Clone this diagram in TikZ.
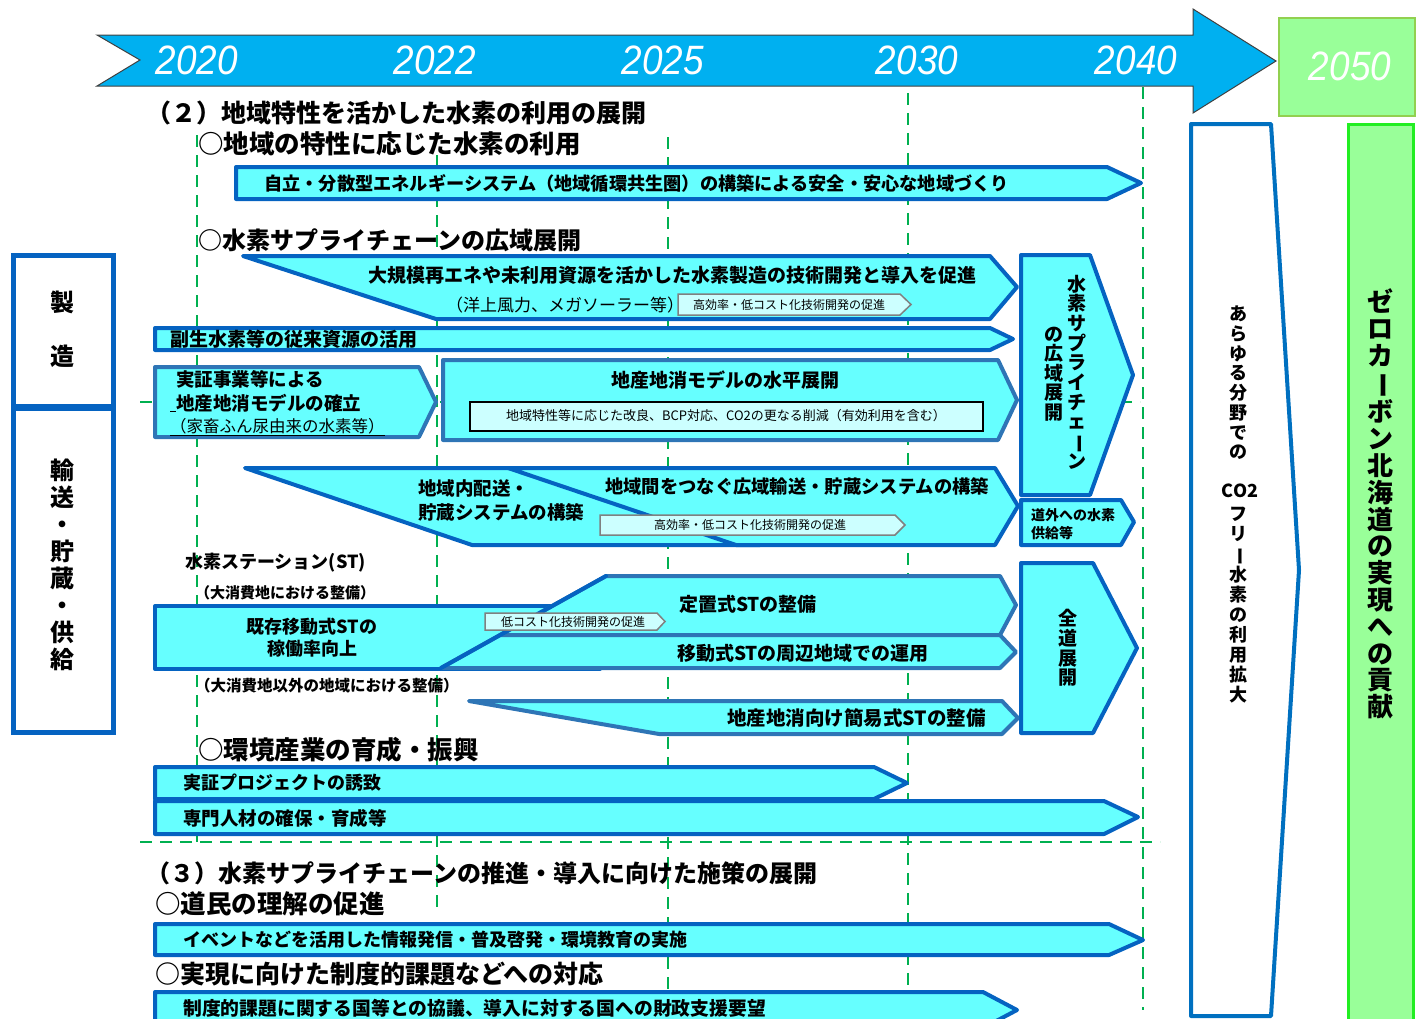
\documentclass[tikz,border=0pt]{standalone}
\usepackage{fontspec}
\setmainfont{Noto Sans CJK JP}
\newfontfamily\yearfont{Liberation Sans}
\usepackage{graphicx}
\definecolor{tlblue}{HTML}{00B0F0}
\definecolor{barfill}{HTML}{66FFFF}
\definecolor{bdark}{HTML}{0563C1}
\definecolor{bmid}{HTML}{2E75B6}
\definecolor{lightc}{HTML}{CCFFFF}
\definecolor{gdash}{HTML}{00B050}
\definecolor{lgreen}{HTML}{99FF99}
\definecolor{gframe}{HTML}{92D050}
\definecolor{bgreen}{HTML}{22EE22}
\definecolor{arrowblue}{HTML}{0070C0}
\newcommand\fsz[1]{\fontsize{#1}{#1}\selectfont}
\newcommand\vbar{\rotatebox[origin=c]{-90}{ー}}
\begin{document}
\begin{tikzpicture}[x=1pt,y=-1pt,
  bar/.style={fill=barfill, draw=bdark, line width=4pt, line join=round},
  barm/.style={fill=barfill, draw=bmid, line width=4pt, line join=round},
  smallarr/.style={fill=lightc, draw=gray, line width=1.5pt},
  gd/.style={draw=gdash, line width=2.5pt, dash pattern=on 12pt off 8pt},
  tw/.style={inner sep=0pt, anchor=west},
  tc/.style={inner sep=0pt},
  te/.style={inner sep=0pt, anchor=east},
  yr/.style={inner sep=0pt, text=white, font=\yearfont\itshape\fsz{41}},
  catbox/.style={draw=bdark, line width=5pt, fill=white},
]
\useasboundingbox (0,0) rectangle (1421,1018);
\clip (0,0) rectangle (1421,1018);

% dashed guide lines
\draw[gd] (197,135) -- (197,842);
\draw[gd] (437,155) -- (437,913);
\draw[gd] (668,137) -- (668,990);
\draw[gd] (908,93) -- (908,990);
\draw[gd] (1143,87) -- (1143,1010);
\draw[gd] (140,842) -- (1160,842);
\draw[gd] (140,402) -- (1140,402);

% timeline
\draw[fill=tlblue, draw=darkgray, line width=1pt, line join=miter]
  (97,35) -- (1193,35) -- (1193,9) -- (1276,61) -- (1193,113) -- (1193,86) -- (97,86) -- (140,60) -- cycle;
\node[yr] (y2020) at (197,60) {\scalebox{0.9}[1]{2020}};
\node[yr] (y2022) at (435,60) {\scalebox{0.9}[1]{2022}};
\node[yr] (y2025) at (663,60) {\scalebox{0.9}[1]{2025}};
\node[yr] (y2030) at (917,60) {\scalebox{0.9}[1]{2030}};
\node[yr] (y2040) at (1136,60) {\scalebox{0.9}[1]{2040}};
\draw[fill=lgreen, draw=gframe, line width=2.5pt] (1279,18) rectangle (1415,116);
\node[yr] (y2050) at (1350,66) {\scalebox{0.9}[1]{2050}};

% right column
\draw[draw=arrowblue, fill=white, line width=4pt, line join=round]
  (1191,124) -- (1271,124) -- (1299,570) -- (1271,1016) -- (1191,1016) -- cycle;
\draw[fill=lgreen, draw=bgreen, line width=3pt] (1348,124) rectangle (1413,1030);
\node[tc, align=center, font=\fontsize{18}{19.7}\selectfont\bfseries] (co2a) at (1238,383)
  {あ\\ら\\ゆ\\る\\分\\野\\で\\の};
\node[tc, font=\fsz{18}\bfseries] (co2b) at (1240,491) {CO2};
\node[tc, align=center, font=\fontsize{18}{20}\selectfont\bfseries] (co2c) at (1238,605)
  {フ\\リ\\\vbar\\水\\素\\の\\利\\用\\拡\\大};
\node[tc, align=center, font=\fontsize{26}{26.8}\selectfont\bfseries] (zero) at (1380,504)
  {ゼ\\ロ\\カ\\\vbar\\ボ\\ン\\北\\海\\道\\の\\実\\現\\へ\\の\\貢\\献};

% left category boxes
\draw[catbox] (13,255) rectangle (113,406);
\draw[catbox] (13,408) rectangle (113,732);
\node[tc, font=\fsz{24}\bfseries] (sei) at (62,302) {製};
\node[tc, font=\fsz{24}\bfseries] (zou) at (62,356) {造};
\node[tc, align=center, font=\fontsize{24}{27}\selectfont\bfseries] (yuso) at (62,565)
  {輸\\送\\・\\貯\\蔵\\・\\供\\給};

% headings
\node[tw, font=\fsz{25}\bfseries] (h2) at (146,113) {（２）地域特性を活かした水素の利用の展開};
\node[tw, font=\fsz{25.5}\bfseries] (h21) at (198,144) {○地域の特性に応じた水素の利用};
\node[tw, font=\fsz{24}\bfseries] (h22) at (198,240) {○水素サプライチェーンの広域展開};
\node[tw, font=\fsz{18}\bfseries] (hst) at (185,563) {水素ステーション(ST)};
\node[tw, font=\fsz{15}\bfseries] (hst1) at (195,593) {（大消費地における整備）};
\node[tw, font=\fsz{15.5}\bfseries] (hst2) at (195,686) {（大消費地以外の地域における整備）};
\node[tw, font=\fsz{25.5}\bfseries] (h23) at (198,750) {○環境産業の育成・振興};
\node[tw, font=\fsz{24}\bfseries] (h3) at (146,873) {（３）水素サプライチェーンの推進・導入に向けた施策の展開};
\node[tw, font=\fsz{25.5}\bfseries] (h31) at (155,904) {○道民の理解の促進};
\node[tw, font=\fsz{25}\bfseries] (h32) at (155,974) {○実現に向けた制度的課題などへの対応};

% bar A
\draw[bar] (236,167) -- (1107,167) -- (1141,183) -- (1107,199) -- (236,199) -- cycle;
\node[tw, font=\fsz{18.2}\bfseries] (ta) at (264,183) {自立・分散型エネルギーシステム（地域循環共生圏）の構築による安全・安心な地域づくり};

% bar B
\draw[bar] (243,256) -- (990,256) -- (1017,287) -- (990,319) -- (436,319) -- cycle;
\node[tc, font=\fsz{19}\bfseries] (tb1) at (672,275) {大規模再エネや未利用資源を活かした水素製造の技術開発と導入を促進};
\node[tw, font=\fsz{17}] (tb2) at (446,305) {（洋上風力、メガソーラー等）};
\draw[smallarr] (678,294) -- (900,294) -- (911,304.5) -- (900,315) -- (678,315) -- cycle;
\node[tc, font=\fsz{12}] (tb3) at (789,304.5) {高効率・低コスト化技術開発の促進};

% bar C
\draw[bar] (155,328) -- (990,328) -- (1013,339) -- (990,350) -- (155,350) -- cycle;
\node[tw, font=\fsz{19}\bfseries] (tcc) at (170,339) {副生水素等の従来資源の活用};

% bar D
\draw[barm] (155,367) -- (419,367) -- (436,402) -- (419,437) -- (155,437) -- cycle;
\node[tw, font=\fsz{18.5}\bfseries] (td1) at (176,379) {実証事業等による};
\node[tw, font=\fsz{18.5}\bfseries] (td2) at (170,403) {\rule[-2pt]{6pt}{1pt}地産地消モデルの確立};
\node[tw, font=\fsz{16.5}] (td3) at (170,427) {\underline{（家畜ふん尿由来の水素等）}};

% bar E
\draw[barm] (443,360) -- (998,360) -- (1017,400) -- (998,440) -- (443,440) -- cycle;
\node[tc, font=\fsz{19}\bfseries] (te1) at (725,380) {地産地消モデルの水平展開};
\draw[fill=lightc, draw=black, line width=1.5pt] (470,402) rectangle (983,431);
\node[tc, font=\fsz{13}] (te2) at (726,416) {地域特性等に応じた改良、BCP対応、CO2の更なる削減（有効利用を含む）};

% bars F
\draw[bar] (245,468) -- (760,468) -- (760,545) -- (472,545) -- cycle;
\draw[bar] (508,468) -- (995,468) -- (1018,506) -- (995,545) -- (736,545) -- cycle;
\node[tw, font=\fsz{18.5}\bfseries] (tf1) at (418,488) {地域内配送・};
\node[tw, font=\fsz{18.5}\bfseries] (tf2) at (418,512) {貯蔵システムの構築};
\node[tw, font=\fsz{18.3}\bfseries] (tf3) at (605,486) {地域間をつなぐ広域輸送・貯蔵システムの構築};
\draw[smallarr] (600,515) -- (895,515) -- (905,525) -- (895,535) -- (600,535) -- cycle;
\node[tc, font=\fsz{12}] (tf4) at (750,525) {高効率・低コスト化技術開発の促進};

% right column boxes
\draw[bar] (1021,255) -- (1090,255) -- (1133,375) -- (1090,495) -- (1021,495) -- cycle;
\node[tc, align=center, font=\fontsize{19}{19.7}\selectfont\bfseries] (tsc1) at (1077,372)
  {水\\素\\サ\\プ\\ラ\\イ\\チ\\ェ\\\vbar\\ン};
\node[tc, align=center, font=\fontsize{19}{19.5}\selectfont\bfseries] (tsc2) at (1054,374)
  {の\\広\\域\\展\\開};
\draw[bar] (1021,500) -- (1121,500) -- (1134,522) -- (1121,545) -- (1021,545) -- cycle;
\node[tw, font=\fsz{14}\bfseries] (tdo1) at (1031,515) {道外への水素};
\node[tw, font=\fsz{14}\bfseries] (tdo2) at (1031,533) {供給等};
\draw[bar] (1021,563) -- (1093,563) -- (1137,648) -- (1093,733) -- (1021,733) -- cycle;
\node[tc, align=center, font=\fontsize{19}{19.7}\selectfont\bfseries] (tzen) at (1068,648)
  {全\\道\\展\\開};

% ST shapes
\draw[bar] (155,606) rectangle (600,669);
\draw[barm] (606,576) -- (1000,576) -- (1016,605) -- (1000,635) -- (500,635) -- cycle;
\draw[barm] (500,635) -- (1000,635) -- (1016,652) -- (1000,668) -- (441,668) -- cycle;
\draw[bdark, line width=4pt, line cap=round] (441,668) -- (606,576);
\node[tc, font=\fsz{18}\bfseries] (tst1) at (312,627) {既存移動式STの};
\node[tc, font=\fsz{18}\bfseries] (tst2) at (312,649) {稼働率向上};
\draw[smallarr] (485,613) -- (657,613) -- (665,621.5) -- (657,630) -- (485,630) -- cycle;
\node[tc, font=\fsz{12}] (tst3) at (573,621.5) {低コスト化技術開発の促進};
\node[tc, font=\fsz{19}\bfseries] (tst4) at (748,604) {定置式STの整備};
\node[tc, font=\fsz{19}\bfseries] (tst5) at (803,653) {移動式STの周辺地域での運用};
\draw[barm] (469,701) -- (1002,701) -- (1018,718) -- (1002,734) -- (659,734) -- cycle;
\node[te, font=\fsz{19.5}\bfseries] (tst6) at (986,718) {地産地消向け簡易式STの整備};

% bottom bars
\draw[bar] (155,767) -- (874,767) -- (907,783) -- (874,799) -- (155,799) -- cycle;
\node[tw, font=\fsz{18}\bfseries] (tg1) at (183,783) {実証プロジェクトの誘致};
\draw[bar] (155,801) -- (1104,801) -- (1138,817) -- (1104,834) -- (155,834) -- cycle;
\node[tw, font=\fsz{18.5}\bfseries] (tg2) at (183,818) {専門人材の確保・育成等};
\draw[bar] (155,924) -- (1109,924) -- (1143,940) -- (1109,955) -- (155,955) -- cycle;
\node[tw, font=\fsz{18}\bfseries] (tg3) at (183,940) {イベントなどを活用した情報発信・普及啓発・環境教育の実施};
\draw[bar] (155,992) -- (983,992) -- (1017,1010) -- (983,1028) -- (155,1028) -- cycle;
\node[tw, font=\fsz{18.8}\bfseries] (tg4) at (183,1008) {制度的課題に関する国等との協議、導入に対する国への財政支援要望};
\end{tikzpicture}
\end{document}
